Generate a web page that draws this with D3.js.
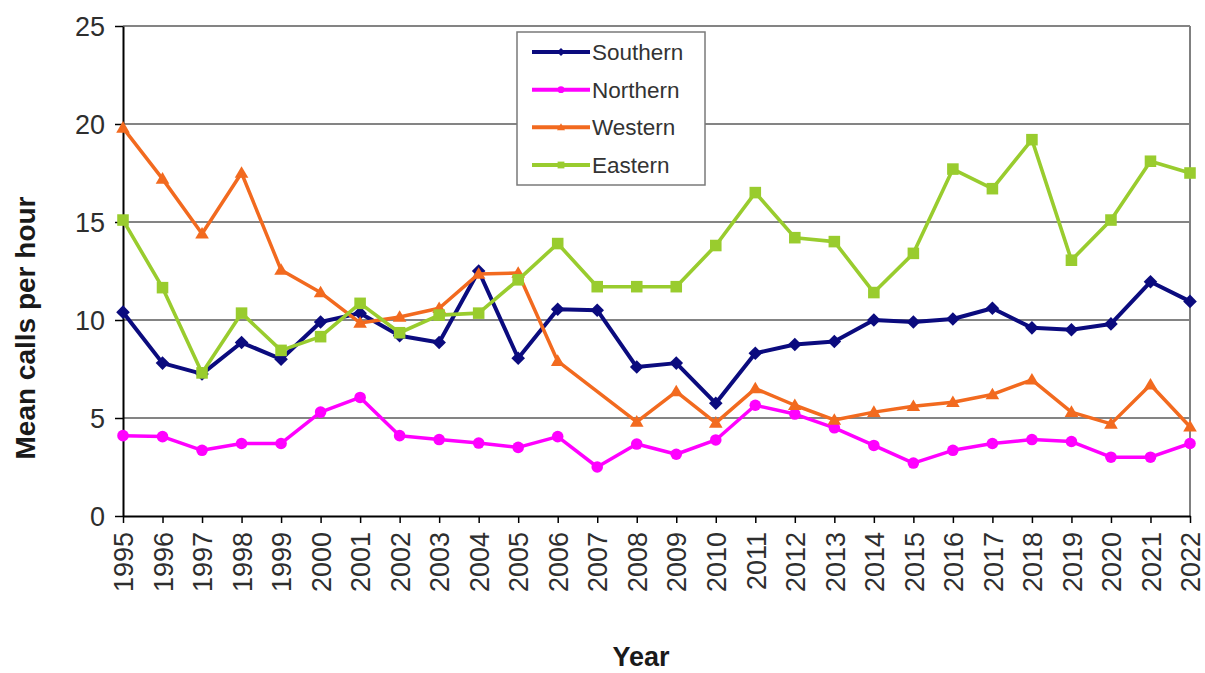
<!DOCTYPE html>
<html>
<head>
<meta charset="utf-8">
<script src="https://cdn.jsdelivr.net/npm/d3@7"></script>
<style>
  html, body { margin: 0; padding: 0; background: #fff; }
  svg { display: block; font-family: "Liberation Sans", Arial, sans-serif; }
</style>
</head>
<body>
<svg id="chart" width="1205" height="673"></svg>
<script>
// Mean calls per hour by region, 1995–2022
const years = d3.range(1995, 2023);
const yTicks = [0, 5, 10, 15, 20, 25];

const southern = [10.4, 7.8, 7.25, 8.85, 8.0, 9.9, 10.35, 9.2, 8.85, 12.5, 8.05, 10.55, 10.5, 7.6, 7.8, 5.75, 8.3, 8.75, 8.9, 10.0, 9.9, 10.05, 10.6, 9.6, 9.5, 9.8, 11.95, 10.95];
const northern = [4.1, 4.05, 3.35, 3.7, 3.7, 5.3, 6.05, 4.1, 3.9, 3.72, 3.5, 4.05, 2.5, 3.67, 3.15, 3.88, 5.65, 5.2, 4.5, 3.6, 2.7, 3.35, 3.7, 3.9, 3.8, 3.0, 3.0, 3.7];
const western  = [19.8, 17.2, 14.4, 17.5, 12.55, 11.4, 9.85, 10.15, 10.6, 12.35, 12.4, 7.9, null, 4.8, 6.35, 4.75, 6.5, 5.65, 4.9, 5.3, 5.6, 5.8, 6.2, 6.95, 5.3, 4.7, 6.7, 4.55];
const eastern  = [15.1, 11.65, 7.3, 10.35, 8.45, 9.15, 10.85, 9.35, 10.25, 10.35, 12.05, 13.9, 11.7, 11.7, 11.7, 13.8, 16.5, 14.2, 14.0, 11.4, 13.4, 17.7, 16.7, 19.2, 13.05, 15.1, 18.1, 17.5];

const seriesNames = ["Southern", "Northern", "Western", "Eastern"];

const series = [
  { name: seriesNames[0], values: southern, color: "#0b0b7e", marker: "diamond", width: 4 },
  { name: seriesNames[1], values: northern, color: "#ff00ff", marker: "circle",  width: 3.5 },
  { name: seriesNames[2], values: western,  color: "#f26a1f", marker: "triangle", width: 3.5 },
  { name: seriesNames[3], values: eastern,  color: "#99cc2e", marker: "square",  width: 3.6 }
];

const svg = d3.select("#chart");
const plotLeft = 123, plotRight = 1190, plotTop = 26, plotBottom = 516;

const x = d3.scalePoint().domain(years).range([plotLeft, plotRight]);
const y = d3.scaleLinear().domain([0, 25]).range([plotBottom, plotTop]);

svg.append("rect").attr("width", 1205).attr("height", 673).attr("fill", "#fff");

// horizontal gridlines
svg.append("g")
  .selectAll("line")
  .data(yTicks.filter(d => d > 0))
  .join("line")
  .attr("x1", plotLeft).attr("x2", plotRight)
  .attr("y1", d => y(d)).attr("y2", d => y(d))
  .attr("stroke", "#848484").attr("stroke-width", 2);

// right plot border
svg.append("line")
  .attr("x1", plotRight).attr("x2", plotRight)
  .attr("y1", plotTop).attr("y2", plotBottom)
  .attr("stroke", "#808080").attr("stroke-width", 2);

// y axis
const yAxis = svg.append("g")
  .attr("transform", `translate(${plotLeft},0)`)
  .call(d3.axisLeft(y).tickValues(yTicks).tickSize(8).tickSizeOuter(0).tickPadding(10).tickFormat(d3.format("d")));
yAxis.select(".domain").attr("stroke", "#000").attr("stroke-width", 2);
yAxis.selectAll(".tick line").attr("stroke", "#000").attr("stroke-width", 1.5);
yAxis.selectAll(".tick text")
  .attr("font-size", 27).attr("fill", "#2e2e2e")
  .attr("font-family", "'Liberation Sans', Arial, sans-serif")
  .attr("dy", "0.36em");

// x axis
const xAxis = svg.append("g")
  .attr("transform", `translate(0,${plotBottom})`)
  .call(d3.axisBottom(x).tickSize(7).tickSizeOuter(0).tickFormat(d3.format("d")));
xAxis.select(".domain").attr("stroke", "#000").attr("stroke-width", 2);
xAxis.selectAll(".tick line").attr("stroke", "#000").attr("stroke-width", 1.5);
xAxis.selectAll(".tick text")
  .attr("font-size", 27).attr("fill", "#2e2e2e")
  .attr("font-family", "'Liberation Sans', Arial, sans-serif")
  .attr("text-anchor", "end")
  .attr("transform", "rotate(-90)")
  .attr("x", -16).attr("y", 0).attr("dy", "0.36em");

// axis titles
svg.append("text")
  .attr("transform", "translate(35,328) rotate(-90)")
  .attr("text-anchor", "middle")
  .attr("font-size", 28).attr("font-weight", "bold").attr("fill", "#1a1a1a")
  .text("Mean calls per hour");

svg.append("text")
  .attr("x", 641).attr("y", 666)
  .attr("text-anchor", "middle")
  .attr("font-size", 27).attr("font-weight", "bold").attr("fill", "#1a1a1a")
  .text("Year");

// marker shapes
function markerPath(type, s) {
  switch (type) {
    case "diamond": return `M0,${-s}L${s},0L0,${s}L${-s},0Z`;
    case "square": return `M${-s*0.85},${-s*0.85}H${s*0.85}V${s*0.85}H${-s*0.85}Z`;
    case "triangle": return `M0,${-s}L${s},${s*0.7}L${-s},${s*0.7}Z`;
    default: return d3.arc()({ innerRadius: 0, outerRadius: s * 0.85, startAngle: 0, endAngle: 2 * Math.PI });
  }
}

const line = d3.line().x(d => x(d.year)).y(d => y(d.value));

const plot = svg.append("g");
series.forEach(s => {
  const pts = years.map((yr, i) => ({ year: yr, value: s.values[i] })).filter(d => d.value != null);
  const g = plot.append("g");
  g.append("path")
    .datum(pts)
    .attr("d", line)
    .attr("fill", "none")
    .attr("stroke", s.color)
    .attr("stroke-width", s.width)
    .attr("stroke-linejoin", "round");
  g.selectAll("path.mk")
    .data(pts)
    .join("path")
    .attr("class", "mk")
    .attr("transform", d => `translate(${x(d.year)},${y(d.value)})`)
    .attr("d", markerPath(s.marker, 6.8))
    .attr("fill", s.color);
});

// legend
const legend = svg.append("g");
legend.append("rect")
  .attr("x", 517).attr("y", 32).attr("width", 188).attr("height", 153)
  .attr("fill", "#fff").attr("stroke", "#7a7a7a").attr("stroke-width", 1.5);

const legendY = d3.scalePoint().domain(seriesNames).range([52, 165]);
series.forEach(s => {
  const ly = legendY(s.name);
  legend.append("line")
    .attr("x1", 532).attr("x2", 590).attr("y1", ly).attr("y2", ly)
    .attr("stroke", s.color).attr("stroke-width", 4);
  legend.append("path")
    .attr("transform", `translate(561,${ly})`)
    .attr("d", markerPath(s.marker, 4))
    .attr("fill", s.color);
  legend.append("text")
    .attr("x", 592).attr("y", ly).attr("dy", "0.36em")
    .attr("font-size", 22.5).attr("fill", "#333")
    .text(s.name);
});
</script>
</body>
</html>
